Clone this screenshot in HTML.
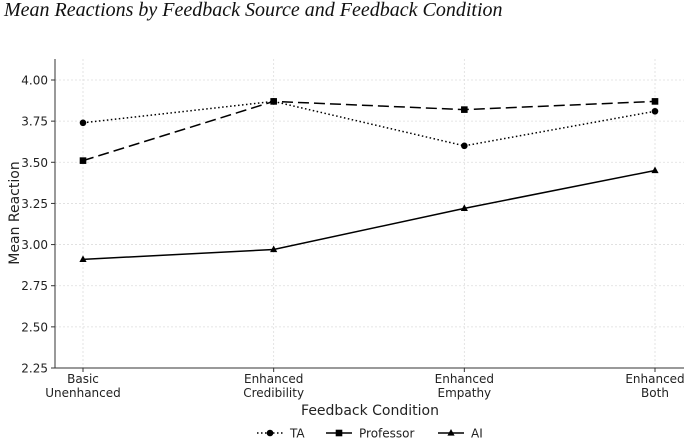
<!DOCTYPE html>
<html><head><meta charset="utf-8"><style>
body{margin:0;background:#fff;}
svg{display:block;font-family:"DejaVu Sans","Liberation Sans",sans-serif;}
</style></head><body>
<svg id="c" width="685" height="440">
<text x="4" y="16" font-family="Liberation Serif, serif" font-style="italic" font-size="20" fill="#111">Mean Reactions by Feedback Source and Feedback Condition</text>
<g id="grid"></g><g id="axes"></g><g id="series"></g><g id="legend"></g>
</svg>
<script>
const categories=[["Basic","Unenhanced"],["Enhanced","Credibility"],["Enhanced","Empathy"],["Enhanced","Both"]];
const taValues=[3.74,3.87,3.60,3.81];
const professorValues=[3.51,3.87,3.82,3.87];
const aiValues=[2.91,2.97,3.22,3.45];
const yTicks=[2.25,2.50,2.75,3.00,3.25,3.50,3.75,4.00];
const NS="http://www.w3.org/2000/svg";
const L=55,R=684,T=59,B=368,ymin=2.25,ymax=4.0,yTop=80;
function xs(i){return 83+i*(655-83)/(categories.length-1);}
function ys(v){return B-(v-ymin)/(ymax-ymin)*(B-yTop);}
function mk(tag,attrs,parent,text){const e=document.createElementNS(NS,tag);for(const k in attrs)e.setAttribute(k,attrs[k]);if(text!==undefined)e.textContent=text;parent.appendChild(e);return e;}
const grid=document.getElementById('grid'),axes=document.getElementById('axes'),ser=document.getElementById('series'),leg=document.getElementById('legend');
yTicks.forEach(t=>{
 const y=ys(t);
 const g=mk('line',{x1:L,x2:R,y1:y,y2:y,stroke:'#ddd','stroke-width':0.8,'stroke-dasharray':'2,2'},grid);
 
 mk('line',{x1:L-4,x2:L,y1:y,y2:y,stroke:'#333'},axes);
 const tx=mk('text',{x:L-7,y:y+4.5,'text-anchor':'end','font-size':12,fill:'#222'},axes,t.toFixed(2));
 
});
categories.forEach((c,i)=>{
 const x=xs(i);
 const g=mk('line',{x1:x,x2:x,y1:T,y2:B,stroke:'#ddd','stroke-width':0.8,'stroke-dasharray':'2,2'},grid);
 
 mk('line',{x1:x,x2:x,y1:B,y2:B+4,stroke:'#333'},axes);
 const tx=mk('text',{x:x,y:B+15,'text-anchor':'middle','font-size':12,fill:'#222'},axes);
 
 mk('tspan',{x:x,dy:0},tx,c[0]);mk('tspan',{x:x,dy:14},tx,c[1]);
});
mk('line',{x1:L,x2:L,y1:T,y2:B,stroke:'#333','stroke-width':1},axes);
mk('line',{x1:L,x2:R,y1:B,y2:B,stroke:'#333','stroke-width':1},axes);
let t=mk('text',{x:370,y:415,'text-anchor':'middle','font-size':14,fill:'#222'},axes,'Feedback Condition');

t=mk('text',{x:0,y:0,'text-anchor':'middle','font-size':14,fill:'#222',transform:'translate(19,213) rotate(-90)'},axes,'Mean Reaction');

function marker(type,x,y,p){
 if(type==='circle')return mk('circle',{cx:x,cy:y,r:3.3,fill:'#000'},p);
 if(type==='square')return mk('rect',{x:x-3.3,y:y-3.3,width:6.6,height:6.6,fill:'#000'},p);
 return mk('polygon',{points:`${x},${y-4} ${x-3.6},${y+2.6} ${x+3.6},${y+2.6}`,fill:'#000'},p);
}
const series=[{name:'TA',vals:taValues,dash:'1.5,2.5',m:'circle'},{name:'Professor',vals:professorValues,dash:'11,5',m:'square'},{name:'AI',vals:aiValues,dash:'',m:'tri'}];
series.forEach(s=>{
 const g=mk('g',{},ser);
 
 const pts=s.vals.map((v,i)=>xs(i)+','+ys(v)).join(' ');
 const pl=mk('polyline',{points:pts,fill:'none',stroke:'#000','stroke-width':1.5,'stroke-dasharray':s.dash},g);
 
 s.vals.forEach((v,i)=>{const m=marker(s.m,xs(i),ys(v),g);
  });
});
const lx=[257,326,438];
series.forEach((s,i)=>{
 const g=mk('g',{},leg);
 
 const y=433,x=lx[i];
 mk('line',{x1:x,x2:x+26,y1:y,y2:y,stroke:'#000','stroke-width':1.5,'stroke-dasharray':s.dash},g);
 marker(s.m,x+13,y,g);
 mk('text',{x:x+33,y:y+4.5,'font-size':12,fill:'#222'},g,s.name);
});
</script>
</body></html>
